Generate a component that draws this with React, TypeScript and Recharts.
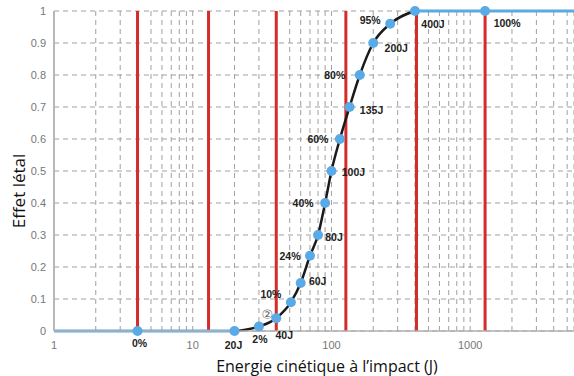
import React from 'react';
import {
  ComposedChart,
  Line,
  Scatter,
  XAxis,
  YAxis,
  CartesianGrid,
  ReferenceLine,
} from 'recharts';

// ---- data ----
const energyTicks = [
  1, 2, 3, 4, 5, 6, 7, 8, 9,
  10, 20, 30, 40, 50, 60, 70, 80, 90,
  100, 200, 300, 400, 500, 600, 700, 800, 900,
  1000, 2000, 3000, 4000, 5000,
];
const energyTickLabels = [1, 10, 100, 1000];
const effectTicks = [0, 0.1, 0.2, 0.3, 0.4, 0.5, 0.6, 0.7, 0.8, 0.9, 1];

const redLineEnergy = [4, 13, 40, 127, 410, 1280];

const zeroEnergy = [1, 20];
const zeroEffect = [0, 0];
const fullEnergy = [400, 5600];
const fullEffect = [1, 1];

const pointEnergy = [4, 20, 30, 40, 51, 60, 70, 80, 90, 100, 115, 135, 160, 200, 265, 400, 1280];
const pointEffect = [0, 0, 0.014, 0.04, 0.09, 0.15, 0.235, 0.3, 0.4, 0.5, 0.6, 0.7, 0.8, 0.9, 0.96, 1, 1];
const pointLabels = ['0%', '20J', '2%', '40J', '10%', '60J', '24%', '80J', '40%', '100J', '60%', '135J', '80%', '200J', '95%', '400J', '100%'];

const noteEnergy = [34.5];
const noteEffect = [0.053];
const noteText = ['②'];

// ---- derived tables ----
const zeroData = zeroEnergy.map((e, i) => ({ energy: e, effect: zeroEffect[i] }));
const fullData = fullEnergy.map((e, i) => ({ energy: e, effect: fullEffect[i] }));
const pointData = pointEnergy.map((e, i) => ({ energy: e, effect: pointEffect[i], label: pointLabels[i] }));
const curveData = pointData.slice(1, 16);
const noteData = noteEnergy.map((e, i) => ({ energy: e, effect: noteEffect[i], label: noteText[i] }));

// label placement (pixels relative to the dot)
const labelOffset: Record<string, [number, number]> = {
  '0%': [2, 12],
  '20J': [-1, 14],
  '2%': [1, 12],
  '40J': [8, 17],
  '10%': [-20, -8],
  '60J': [17, -2],
  '24%': [-20, 0],
  '80J': [16, 2],
  '40%': [-22, 0],
  '100J': [22, 1],
  '60%': [-22, 0],
  '135J': [22, 3],
  '80%': [-25, 0],
  '200J': [23, 5],
  '95%': [-20, -4],
  '400J': [18, 13],
  '100%': [22, 12],
};

const BLUE = '#5aaae6';
const RED = '#d42b2b';
const GRID = '#a0a0a0';

const DotShape = (props: any) => {
  const { cx, cy } = props;
  if (cx == null || cy == null) return null;
  return <circle cx={cx} cy={cy} r={5} fill={BLUE} />;
};

const LabelShape = (props: any) => {
  const { cx, cy, payload } = props;
  if (cx == null || cy == null) return null;
  const off = labelOffset[payload.label] || [0, 0];
  return (
    <text
      x={cx + off[0]}
      y={cy + off[1]}
      textAnchor="middle"
      dominantBaseline="central"
      fontFamily="'Liberation Sans', Arial, sans-serif"
      fontWeight="bold"
      fontSize={10.5}
      fill="#222"
    >
      {payload.label}
    </text>
  );
};

const NoteShape = (props: any) => {
  const { cx, cy, payload } = props;
  if (cx == null || cy == null) return null;
  return (
    <text
      x={cx}
      y={cy}
      textAnchor="middle"
      dominantBaseline="central"
      fontFamily="'DejaVu Sans', sans-serif"
      fontSize={13}
      fill="#666"
    >
      {payload.label}
    </text>
  );
};

export default function App() {
  return (
    <div style={{ position: 'relative', width: 574, height: 376, background: '#fff' }}>
      <style>{`body{margin:0}`}</style>
      <ComposedChart
        width={574}
        height={376}
        margin={{ top: 11, right: 0, bottom: 15, left: 8 }}
      >
        <CartesianGrid stroke={GRID} strokeDasharray="5 4" />
        <XAxis
          dataKey="energy"
          type="number"
          scale="log"
          domain={[1, 5600]}
          allowDataOverflow
          ticks={energyTicks}
          interval={0}
          tickFormatter={(v: number) => (energyTickLabels.includes(v) ? String(v) : '')}
          tickLine={false}
          axisLine={{ stroke: '#b0b0b0', strokeWidth: 1.5 }}
          tick={{ fill: '#777', fontSize: 11, fontFamily: "'Liberation Sans', Arial, sans-serif" }}
          tickMargin={4}
          height={30}
        />
        <YAxis
          type="number"
          dataKey="effect"
          domain={[0, 1]}
          ticks={effectTicks}
          interval={0}
          tickLine={false}
          axisLine={{ stroke: '#b8b8b8', strokeWidth: 2 }}
          tick={{ fill: '#777', fontSize: 11, fontFamily: "'Liberation Sans', Arial, sans-serif" }}
          width={46}
        />
        {redLineEnergy.map((e) => (
          <ReferenceLine key={e} x={e} stroke={RED} strokeWidth={3} />
        ))}
        <Line
          data={zeroData}
          dataKey="effect"
          stroke={BLUE}
          strokeWidth={3}
          dot={false}
          isAnimationActive={false}
        />
        <Line
          data={fullData}
          dataKey="effect"
          stroke={BLUE}
          strokeWidth={3}
          dot={false}
          isAnimationActive={false}
        />
        <Line
          data={curveData}
          dataKey="effect"
          type="monotone"
          stroke="#1a1a1a"
          strokeWidth={2.5}
          dot={false}
          isAnimationActive={false}
        />
        <Scatter data={pointData} dataKey="effect" shape={DotShape} isAnimationActive={false} />
        <Scatter data={pointData} dataKey="effect" shape={LabelShape} isAnimationActive={false} />
        <Scatter data={noteData} dataKey="effect" shape={NoteShape} isAnimationActive={false} />
      </ComposedChart>
      <div
        style={{
          position: 'absolute',
          left: 18,
          top: 191,
          transform: 'translate(-50%, -50%) rotate(-90deg)',
          whiteSpace: 'nowrap',
          fontFamily: "'Open Sans', sans-serif",
          fontSize: 17,
          color: '#111',
        }}
      >
        Effet létal
      </div>
      <div
        style={{
          position: 'absolute',
          left: 327,
          top: 366,
          transform: 'translate(-50%, -50%)',
          whiteSpace: 'nowrap',
          fontFamily: "'Open Sans', sans-serif",
          fontSize: 16,
          color: '#111',
        }}
      >
        Energie cinétique à l’impact (J)
      </div>
    </div>
  );
}
